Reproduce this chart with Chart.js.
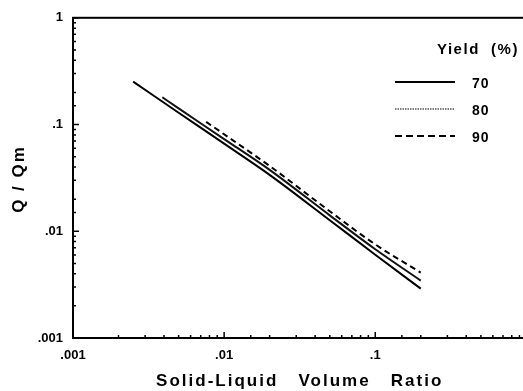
<!DOCTYPE html>
<html>
<head>
<meta charset="utf-8">
<script src="https://cdn.jsdelivr.net/npm/chart.js@4/dist/chart.umd.min.js"></script>
<style>
  html, body { margin: 0; padding: 0; background: #fff; overflow: hidden; width: 523px; height: 391px; }
  #wrap { position: relative; width: 540px; height: 391px; }
</style>
</head>
<body>
<div id="wrap"><canvas id="chart" width="540" height="391"></canvas></div>
<script>
// Q/Qm against solid-liquid volume ratio, one curve per yield level
const yieldLabels = ['70', '80', '90'];

const ratio70 = [0.0025, 0.005, 0.01, 0.02, 0.05, 0.1, 0.2];
const q70     = [0.252, 0.129, 0.0662, 0.0338, 0.0127, 0.00603, 0.0029];

const ratio80 = [0.0039, 0.005, 0.01, 0.02, 0.05, 0.1, 0.2];
const q80     = [0.18, 0.1416, 0.0731, 0.0376, 0.0141, 0.00678, 0.00345];

const ratio90 = [0.0076, 0.01, 0.02, 0.05, 0.1, 0.2];
const q90     = [0.106, 0.081, 0.0409, 0.0154, 0.00753, 0.0041];

const xTitle = 'Solid-Liquid   Volume   Ratio';
const yTitle = 'Q / Qm';
const legendTitle = 'Yield  (%)';

const FONT = '"Liberation Sans", Arial, Helvetica, sans-serif';

function toPoints(xs, ys) {
  return xs.map((x, i) => ({ x: x, y: ys[i] }));
}

function isDecade(v) {
  const l = Math.log10(v);
  return Math.abs(l - Math.round(l)) < 1e-6;
}

function decadeLabel(v) {
  if (!isDecade(v)) return '';
  if (v >= 1) return String(Math.round(v));
  return String(+v.toPrecision(1)).replace(/^0/, '');
}

// Frame, inward tick marks, axis titles and the yield legend
const decorations = {
  id: 'decorations',
  afterDraw(chart) {
    const { ctx, chartArea: ca, scales } = chart;
    ctx.save();
    ctx.strokeStyle = '#000';
    ctx.fillStyle = '#000';

    // tick marks pointing into the plot
    ctx.lineWidth = 1.5;
    ctx.beginPath();
    scales.x.ticks.forEach(t => {
      const px = scales.x.getPixelForValue(t.value);
      const len = isDecade(t.value) ? 6 : 3;
      ctx.moveTo(px, ca.bottom);
      ctx.lineTo(px, ca.bottom - len);
    });
    scales.y.ticks.forEach(t => {
      const py = scales.y.getPixelForValue(t.value);
      const len = isDecade(t.value) ? 6 : 3;
      ctx.moveTo(ca.left, py);
      ctx.lineTo(ca.left + len, py);
    });
    ctx.stroke();

    // plot frame
    ctx.lineWidth = 2;
    ctx.strokeRect(ca.left, ca.top, ca.right - ca.left, ca.bottom - ca.top);

    // axis titles
    ctx.font = 'bold 17px ' + FONT;
    ctx.letterSpacing = '2px';
    ctx.textAlign = 'center';
    ctx.textBaseline = 'middle';
    ctx.fillText(xTitle, (ca.left + ca.right) / 2, 381);

    ctx.save();
    ctx.translate(19, 179);
    ctx.rotate(-Math.PI / 2);
    ctx.fillText(yTitle, 0, 0);
    ctx.restore();

    // legend
    ctx.textAlign = 'left';
    ctx.font = 'bold 15px ' + FONT;
    ctx.letterSpacing = '1.5px';
    ctx.fillText(legendTitle, 437, 50);

    ctx.font = 'bold 14px ' + FONT;
    ctx.letterSpacing = '1px';
    chart.data.datasets.forEach((ds, i) => {
      const y = 82 + i * 27;
      ctx.beginPath();
      ctx.setLineDash(ds.legendDash || []);
      ctx.lineWidth = ds.legendWidth || ds.borderWidth;
      ctx.moveTo(395, y);
      ctx.lineTo(455, y);
      ctx.stroke();
      ctx.setLineDash([]);
      ctx.fillText(ds.label, 472, y + 2);
    });
    ctx.restore();
  }
};

new Chart(document.getElementById('chart'), {
  type: 'line',
  data: {
    datasets: [
      {
        label: yieldLabels[0],
        data: toPoints(ratio70, q70),
        borderColor: '#000',
        borderWidth: 2,
        legendWidth: 2
      },
      {
        label: yieldLabels[1],
        data: toPoints(ratio80, q80),
        borderColor: '#111',
        borderWidth: 2,
        legendWidth: 1.2,
        legendDash: [1.5, 1]
      },
      {
        label: yieldLabels[2],
        data: toPoints(ratio90, q90),
        borderColor: '#000',
        borderWidth: 2,
        borderDash: [6, 4],
        legendWidth: 2,
        legendDash: [7, 4]
      }
    ]
  },
  options: {
    responsive: false,
    animation: false,
    devicePixelRatio: 1,
    layout: { padding: { top: 15, right: 8, left: 0, bottom: 0 } },
    elements: {
      point: { radius: 0 },
      line: { tension: 0, cubicInterpolationMode: 'monotone', fill: false }
    },
    plugins: {
      legend: { display: false },
      tooltip: { enabled: false }
    },
    scales: {
      x: {
        type: 'logarithmic',
        min: 0.001,
        max: 1,
        grid: { display: false, drawTicks: false },
        border: { display: false },
        afterFit(scale) { scale.height = 53; },
        ticks: {
          autoSkip: false,
          maxRotation: 0,
          padding: 10,
          color: '#000',
          font: { family: FONT, size: 13, weight: 'bold' },
          callback: v => decadeLabel(v)
        }
      },
      y: {
        type: 'logarithmic',
        min: 0.001,
        max: 1,
        grid: { display: false, drawTicks: false },
        border: { display: false },
        afterFit(scale) { scale.width = 73; },
        ticks: {
          autoSkip: false,
          padding: 10,
          color: '#000',
          font: { family: FONT, size: 13, weight: 'bold' },
          callback: v => decadeLabel(v)
        }
      }
    }
  },
  plugins: [decorations]
});
</script>
</body>
</html>
